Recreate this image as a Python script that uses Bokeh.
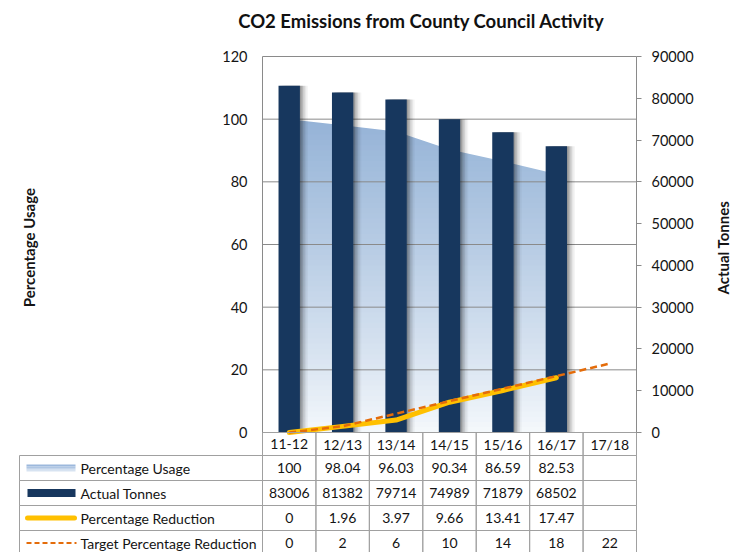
import math
import numpy as np
from bokeh.plotting import figure
from bokeh.models import Range1d, LinearAxis, FixedTicker, Label
from bokeh.embed import file_html
from bokeh.resources import INLINE
from bokeh.core.properties import value

# ---------------- data ----------------
categories = ["11-12", "12/13", "13/14", "14/15", "15/16", "16/17", "17/18"]
pct_usage = [100, 98.04, 96.03, 90.34, 86.59, 82.53, None]
actual_tonnes = [83006, 81382, 79714, 74989, 71879, 68502, None]
pct_reduction = [0, 1.96, 3.97, 9.66, 13.41, 17.47, None]
target_reduction = [0, 2, 6, 10, 14, 18, 22]
left_ticks = [0, 20, 40, 60, 80, 100, 120]
right_ticks = [0, 10000, 20000, 30000, 40000, 50000, 60000, 70000, 80000, 90000]
series_names = ["Percentage Usage", "Actual Tonnes", "Percentage Reduction",
                "Target Percentage Reduction"]
title_text = "CO2 Emissions from County Council Activity"
left_label = "Percentage Usage"
right_label = "Actual Tonnes"

# ---------------- style / layout (pixels) ----------------
FONT = "Lato"
TXT = "#141414"
GRID = "#8a8a8a"
BORDER = "#a0a0a0"
NAVY = "#17375E"
YELLOW = "#FFC000"
ORANGE = "#E46C0A"

W, H = 733, 552
TABLE_L = 19
PLOT_L, PLOT_R = 262, 636
FRAME_T, ZERO_Y, CAT_B = 56, 432, 455
ROW_H = 25

ncat = len(categories)
unit = (PLOT_R - PLOT_L) / ncat              # px per category
ppu = (ZERO_Y - FRAME_T) / left_ticks[-1]     # px per percentage unit
ratio = right_ticks[-1] / left_ticks[-1]


def X(px):
    return (px - PLOT_L) / unit


def Y(py):
    return (ZERO_Y - py) / ppu


def nan(v):
    return float("nan") if v is None else float(v)


xs = [i + 0.5 for i in range(ncat)]
label_units = (PLOT_L - TABLE_L) / unit

p = figure(width=W, height=H,
           x_range=Range1d(X(0), X(W)),
           y_range=Range1d(Y(H), Y(0)),
           output_backend="svg", toolbar_location=None,
           x_axis_location=None, y_axis_location=None,
           min_border=0, min_border_left=0, min_border_right=0,
           min_border_top=0, min_border_bottom=0,
           outline_line_color=None, background_fill_color="white",
           border_fill_color="white")
for g in p.grid:
    g.visible = False

p.extra_y_ranges = {"tonnes": Range1d(Y(H) * ratio, Y(0) * ratio)}

yl = LinearAxis(ticker=FixedTicker(ticks=left_ticks), bounds=(left_ticks[0], left_ticks[-1]),
                fixed_location=0)
yl.axis_line_color = None
yl.major_tick_out = 0
yl.major_tick_in = 0
yl.minor_tick_out = 0
yl.minor_tick_in = 0
yl.major_label_standoff = 15
yl.major_label_text_font = FONT
yl.major_label_text_font_size = "14.5px"
yl.major_label_text_color = TXT
p.add_layout(yl, "left")

yr = LinearAxis(y_range_name="tonnes", ticker=FixedTicker(ticks=right_ticks),
                bounds=(right_ticks[0], right_ticks[-1]), fixed_location=ncat)
yr.axis_line_color = None
yr.major_tick_out = 5
yr.major_tick_in = 0
yr.major_tick_line_color = GRID
yr.minor_tick_out = 0
yr.minor_tick_in = 0
yr.major_label_standoff = 10
yr.major_label_text_font = FONT
yr.major_label_text_font_size = "14.5px"
yr.major_label_text_color = TXT
p.add_layout(yr, "right")

# chart title and axis titles
p.add_layout(Label(x=X(421), y=Y(20), text=title_text, text_align="center",
                   text_baseline="middle", text_font=FONT, text_font_size="18.5px",
                   text_font_style="bold", text_color="#111111"))
mid = (left_ticks[0] + left_ticks[-1]) / 2
p.add_layout(Label(x=X(28), y=mid - 1, text=left_label, angle=math.pi / 2,
                   text_align="center", text_baseline="middle", text_font=FONT,
                   text_font_size="15px", text_font_style="bold", text_color=TXT))
p.add_layout(Label(x=X(722), y=mid - 1, text=right_label, angle=math.pi / 2,
                   text_align="center", text_baseline="middle", text_font=FONT,
                   text_font_size="15px", text_font_style="bold", text_color=TXT))

# ---- gradient area (Percentage Usage) ----
ux = [x for x, u in zip(xs, pct_usage) if u is not None]
uy = [u for u in pct_usage if u is not None]
umax = max(uy)
n = 60
c_top = np.array([149, 179, 215])
c_bot = np.array([246, 249, 252])
b_bottom, b_top, b_col = [], [], []
for k in range(n):
    tt = ((k + 0.5) / n) ** 0.85
    col = c_bot + (c_top - c_bot) * tt
    b_bottom.append(umax * k / n)
    b_top.append(umax * (k + 1.4) / n if k < n - 1 else umax)
    b_col.append("#%02x%02x%02x" % tuple(int(round(v)) for v in col))
p.quad(left=[ux[0]] * n, right=[ux[-1]] * n, bottom=b_bottom, top=b_top,
       fill_color=b_col, line_color=None, level="image")
p.varea(x=ux, y1=uy, y2=[left_ticks[-1] + 2] * len(ux), fill_color="white", level="image")
p.segment(x0=[ux[-1]], x1=[ux[-1]], y0=[uy[-1] + 0.3], y1=[umax + 1], line_color="white",
          line_width=2, level="image")

# ---- grid lines and plot border ----
p.segment(x0=[0] * len(left_ticks), x1=[ncat] * len(left_ticks), y0=left_ticks, y1=left_ticks,
          line_color=GRID, line_width=1, level="underlay")
p.segment(x0=[0, ncat], x1=[0, ncat], y0=[Y(CAT_B)] * 2, y1=[left_ticks[-1]] * 2,
          line_color=GRID, line_width=1, level="underlay")

# ---- bars with soft shadow ----
tonnes = [nan(v) for v in actual_tonnes]
for off, a in [(0.03, 0.16), (0.06, 0.12), (0.09, 0.09), (0.12, 0.06), (0.15, 0.04)]:
    p.vbar(x=[x + off for x in xs], top=tonnes, width=0.4, y_range_name="tonnes",
           fill_color="black", fill_alpha=a, line_color=None)
p.vbar(x=xs, top=tonnes, width=0.4, y_range_name="tonnes", fill_color=NAVY, line_color=None)

# ---- lines ----
rx = [x for x, v in zip(xs, pct_reduction) if v is not None]
ry = [v for v in pct_reduction if v is not None]
p.line(rx, ry, line_color=YELLOW, line_width=5, line_cap="round", line_join="round")
p.line(xs, target_reduction, line_color=ORANGE, line_width=2.5, line_dash="7 4")

# ---- category label row ----
p.rect(x=xs, y=[Y((ZERO_Y + CAT_B) / 2)] * ncat, width=1, height=(CAT_B - ZERO_Y) / ppu,
       fill_color=None, line_color=BORDER)
p.text(x=xs, y=[Y((ZERO_Y + CAT_B) / 2)] * ncat, text=categories,
       text_align="center", text_baseline="middle", text_font=value(FONT),
       text_font_size="14px", text_color=TXT)


# ---------------- data table ----------------
def fmt(v):
    if v is None:
        return ""
    if float(v).is_integer():
        return str(int(v))
    return str(v)


rows = [pct_usage, actual_tonnes, pct_reduction, target_reduction]
nrows = len(rows)
row_c = [Y(CAT_B + ROW_H * (r + 0.5)) for r in range(nrows)]
rh = ROW_H / ppu
cx, cy, ctext = [], [], []
for r, vals in enumerate(rows):
    for c, v in enumerate(vals):
        cx.append(xs[c])
        cy.append(row_c[r])
        ctext.append(fmt(v))
p.rect(x=cx, y=cy, width=1, height=rh, fill_color=None, line_color=BORDER)
p.rect(x=[-label_units / 2] * nrows, y=row_c, width=label_units, height=rh,
       fill_color=None, line_color=BORDER)
p.text(x=cx, y=cy, text=ctext, text_align="center", text_baseline="middle",
       text_font=value(FONT), text_font_size="14px", text_color=TXT)
p.text(x=[X(80)] * nrows, y=row_c, text=series_names,
       text_align="left", text_baseline="middle", text_font=value(FONT),
       text_font_size="14px", text_color=TXT)

# legend swatches
sw_cols = ["#9cb8dc", "#afc6e3", "#c3d4ea", "#d7e3f1"]
hh = 7 / ppu
for i, ccol in enumerate(sw_cols):
    p.quad(left=[X(26)], right=[X(75)],
           top=[row_c[0] + hh / 2 - i * hh / 4], bottom=[row_c[0] + hh / 2 - (i + 1) * hh / 4],
           fill_color=ccol, line_color=None)
p.quad(left=[X(27)], right=[X(75)], top=[row_c[1] + 4 / ppu], bottom=[row_c[1] - 4 / ppu],
       fill_color=NAVY, line_color=None)
p.line([X(27), X(74)], [row_c[2]] * 2, line_color=YELLOW, line_width=5, line_cap="round")
p.line([X(26), X(76)], [row_c[3]] * 2, line_color=ORANGE, line_width=2, line_dash="5 3")

open("out.html", "w").write(file_html(p, INLINE))
